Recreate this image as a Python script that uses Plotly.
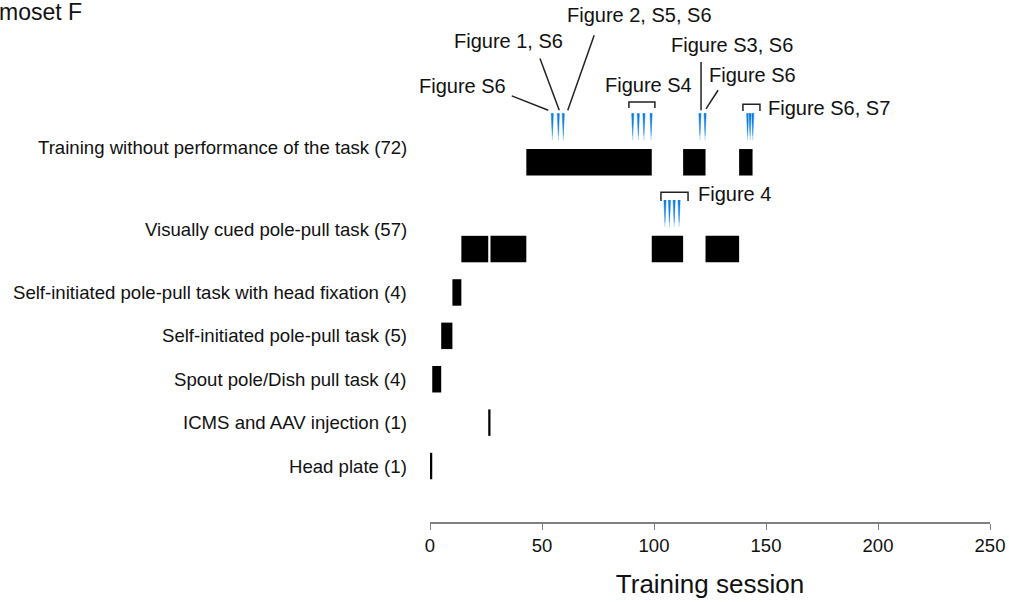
import plotly.graph_objects as go

# Task rows (bottom to top) and their vertical slots
row_labels = [
    "Head plate (1)",
    "ICMS and AAV injection (1)",
    "Spout pole/Dish pull task (4)",
    "Self-initiated pole-pull task (5)",
    "Self-initiated pole-pull task with head fixation (4)",
    "Visually cued pole-pull task (57)",
    "Training without performance of the task (72)",
]
row_slot = [0, 1, 2, 3, 4, 5, 7]
label_slot = [0, 1, 2, 3, 4, 5.44, 7.33]

# Session blocks: row index, first session edge, last session edge
block_row = [0, 1, 2, 3, 4, 5, 5, 5, 5, 6, 6, 6]
block_start = [0, 26, 1, 5, 10, 14, 27, 99, 123, 43, 113, 138]
block_end = [1, 27, 5, 10, 14, 26, 43, 113, 138, 99, 123, 144]

# Recording sessions marked in blue, per row
rec_training = [54.6, 57.3, 59.5, 90.5, 93.0, 95.5, 98.7, 120.5, 122.8,
                141.8, 142.9, 144.1]
rec_visual = [104.9, 106.9, 109.0, 111.2]

x_ticks = [0, 50, 100, 150, 200, 250]

FONT = "Liberation Sans, Arial, sans-serif"

fig = go.Figure()

ys = [row_slot[r] for r in block_row]
widths = [e - s for s, e in zip(block_start, block_end)]
fig.add_trace(go.Bar(
    orientation="h", y=ys, x=widths, base=block_start, width=0.61,
    marker=dict(color="black", line=dict(width=0)),
    hoverinfo="skip", showlegend=False,
))

shapes = []


def spike(x, row):
    lo, hi = row + 0.51, row + 1.13
    outer = f"M {x-0.75},{hi} L {x+0.75},{hi} L {x+0.15},{lo} L {x-0.15},{lo} Z"
    inner = f"M {x-0.48},{hi} L {x+0.48},{hi} L {x+0.06},{lo+0.1} L {x-0.06},{lo+0.1} Z"
    shapes.append(dict(type="path", path=outer, xref="x", yref="y",
                       fillcolor="#9ccff8", line=dict(width=0), layer="above"))
    shapes.append(dict(type="path", path=inner, xref="x", yref="y",
                       fillcolor="#0f7be6", line=dict(width=0), layer="above"))


for v in rec_training:
    spike(v, row_slot[6])
for v in rec_visual:
    spike(v, row_slot[5])

LINE = dict(color="#222222", width=1.5)


def seg(x0, y0, x1, y1):
    shapes.append(dict(type="line", x0=x0, y0=y0, x1=x1, y1=y1,
                       xref="x", yref="y", line=LINE))


def bracket(x0, x1, top, bottom):
    shapes.append(dict(type="path", xref="x", yref="y", line=LINE,
                       path=f"M {x0},{bottom} L {x0},{top} L {x1},{top} L {x1},{bottom}"))


# leader lines to figure references
seg(36.5, 8.53, 52.8, 8.20)
seg(49.1, 9.39, 57.7, 8.20)
seg(73.3, 9.93, 61.5, 8.20)
seg(121.0, 9.31, 121.0, 8.20)
seg(128.6, 8.66, 123.2, 8.23)
bracket(88.8, 100.4, 8.39, 8.25)
bracket(139.7, 147.3, 8.34, 8.18)
bracket(103.1, 115.2, 6.31, 6.11)

annotations = []


def note(text, x, y, anchor):
    annotations.append(dict(text=text, x=x, y=y, xref="x", yref="y",
                            xanchor=anchor, yanchor="middle", showarrow=False,
                            font=dict(family=FONT, size=20, color="#111111")))


note("Figure S6", 35.0, 8.76, "right")
note("Figure 1, S6", 60.3, 9.79, "right")
note("Figure 2, S5, S6", 93.7, 10.39, "center")
note("Figure S4", 97.4, 8.78, "center")
note("Figure S3, S6", 134.9, 9.70, "center")
note("Figure S6", 123.7, 9.01, "left")
note("Figure S6, S7", 150.0, 8.25, "left")
note("Figure 4", 118.8, 6.27, "left")

for lab, ly in zip(row_labels, label_slot):
    annotations.append(dict(text=lab, x=0, y=ly, xref="paper", yref="y",
                            xanchor="right", yanchor="middle", xshift=-21,
                            showarrow=False,
                            font=dict(family=FONT, size=18.6, color="#111111")))

annotations.append(dict(text="moset F", x=0, y=1, xref="paper", yref="paper",
                        xanchor="left", yanchor="top", showarrow=False,
                        xshift=-433, yshift=3,
                        font=dict(family=FONT, size=23, color="#111111")))

fig.update_layout(
    width=1009, height=602,
    margin=dict(l=430, r=19, t=0, b=80),
    paper_bgcolor="white", plot_bgcolor="white",
    shapes=shapes, annotations=annotations,
    xaxis=dict(range=[0, 250], tickvals=x_ticks, ticks="outside", ticklen=6,
               tickcolor="#808080", showline=True, linecolor="#808080",
               linewidth=1.5, showgrid=False, zeroline=False,
               tickfont=dict(family=FONT, size=18.5, color="#111111"),
               title=dict(text="Training session", standoff=20,
                          font=dict(family=FONT, size=26, color="#111111"))),
    yaxis=dict(range=[-1.29, 10.74], visible=False, fixedrange=True),
    showlegend=False,
)

fig.write_html("out.html")
